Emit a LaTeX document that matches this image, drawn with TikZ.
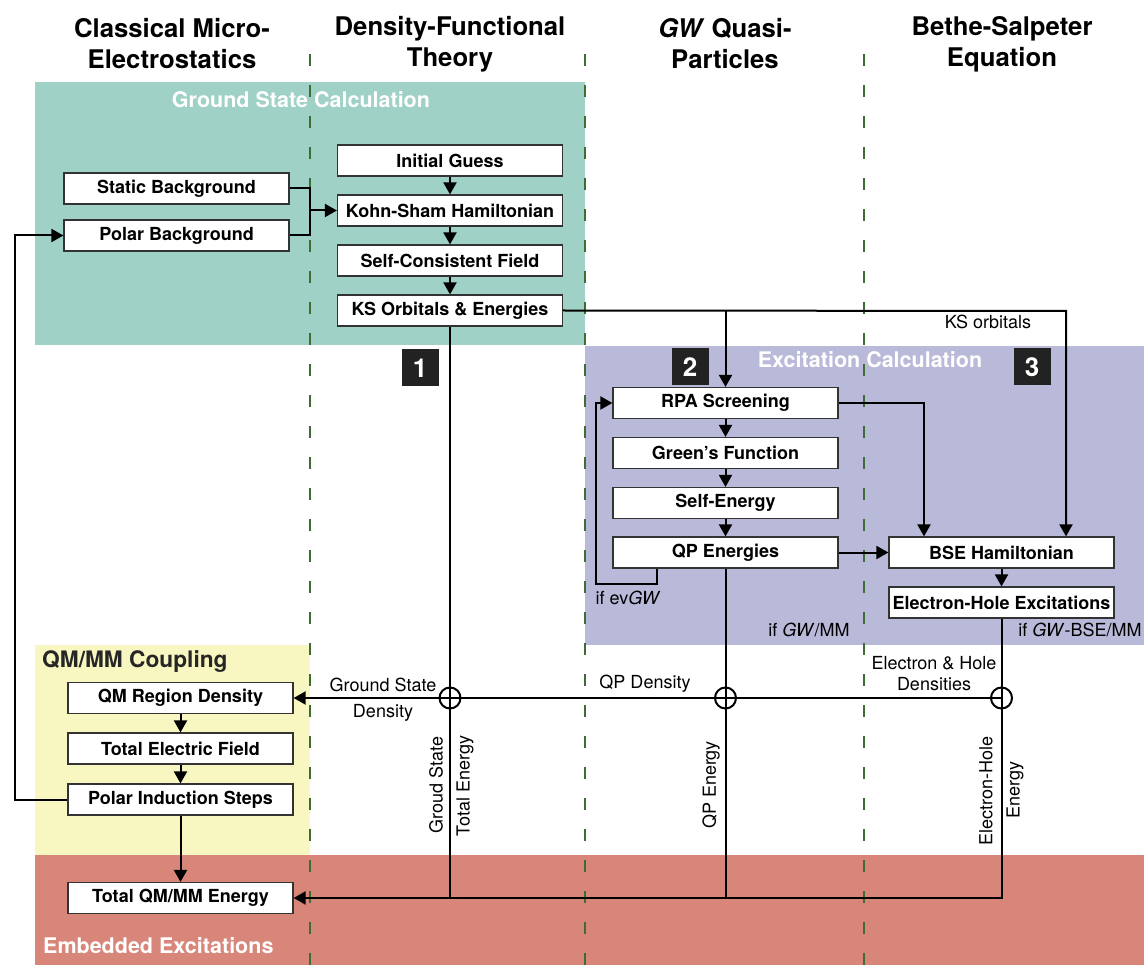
\documentclass[tikz,border=0pt]{standalone}
\usepackage{fontspec}
\setmainfont{TeX Gyre Heros}
\usetikzlibrary{arrows.meta,calc}
\definecolor{tealbg}{HTML}{9FD1C6}
\definecolor{purplebg}{HTML}{B9B9D9}
\definecolor{yellowbg}{HTML}{F8F7C1}
\definecolor{redbg}{HTML}{D9867A}
\definecolor{sepcol}{HTML}{3E6B36}
\definecolor{boxline}{HTML}{333333}
\definecolor{numbg}{HTML}{222222}
\begin{document}
\begin{tikzpicture}[x=1pt,y=-1pt,
  box/.style={draw=boxline, line width=1.2pt, fill=white, minimum width=225pt, minimum height=31pt, inner sep=0pt, font=\fontsize{18}{20}\selectfont\bfseries},
  conn/.style={line width=2pt},
  arr/.style={conn, -{Triangle[length=12pt,width=13pt]}},
  lbl/.style={font=\fontsize{18}{21}\selectfont, inner sep=0pt},
  hdr/.style={font=\fontsize{25.7}{31}\selectfont\bfseries, align=center, inner sep=0pt},
  sec/.style={font=\fontsize{21.5}{24}\selectfont\bfseries, text=white, inner sep=0pt},
  num/.style={fill=numbg, text=white, minimum size=37pt, inner sep=0pt, font=\fontsize{26}{26}\selectfont\bfseries},
  junc/.style={circle, draw, line width=2pt, minimum size=21pt, inner sep=0pt},
  sep/.style={draw=sepcol, line width=1.2pt, dash pattern=on 12pt off 19pt}
]
\useasboundingbox (0,0) rectangle (1144,965);
% background regions
\fill[tealbg] (35,82) rectangle (585,345);
\fill[purplebg] (585,346) rectangle (1144,645);
\fill[yellowbg] (35,645) rectangle (310,855);
\fill[redbg] (35,855) rectangle (1144,965);
% section titles
\node[sec] (tgs) at (301,100) {Ground State Calculation};
\node[sec] (tex) at (870,360) {Excitation Calculation};
\node[sec, text=black!85, font=\fontsize{22.7}{24}\selectfont\bfseries, anchor=west] (tqm) at (42,662) {QM/MM Coupling};
\node[sec, anchor=west] (tem) at (43,946) {Embedded Excitations};
% separators
\draw[sep] (310,54) -- (310,965);
\draw[sep] (585,54) -- (585,965);
\draw[sep] (864,54) -- (864,965);
% headers
\node[hdr] (h1) at (172,44) {Classical Micro-\\Electrostatics};
\node[hdr] (h2) at (450,44) {Density-Functional\\Theory};
\node[hdr] (h3) at (725,44) {\textit{GW} Quasi-\\Particles};
\node[hdr] (h4) at (1002,44) {Bethe-Salpeter\\Equation};
% DFT boxes
\node[box] (ig) at (450,160.5) {Initial Guess};
\node[box] (ksh) at (450,210.5) {Kohn-Sham Hamiltonian};
\node[box] (scf) at (450,260.5) {Self-Consistent Field};
\node[box] (kso) at (450,310.5) {KS Orbitals \& Energies};
% MM boxes
\node[box] (sb) at (176.5,188.5) {Static Background};
\node[box] (pb) at (176.5,235.5) {Polar Background};
% GW boxes
\node[box] (rpa) at (725.5,403) {RPA Screening};
\node[box] (gf) at (725.5,453) {Green’s Function};
\node[box] (se) at (725.5,503) {Self-Energy};
\node[box] (qpe) at (725.5,552.5) {QP Energies};
% BSE boxes
\node[box] (bse) at (1001.5,552.5) {BSE Hamiltonian};
\node[box] (eh) at (1001.5,602.5) {Electron-Hole Excitations};
% QM/MM boxes
\node[box] (qmd) at (180.5,698) {QM Region Density};
\node[box] (tef) at (180.5,748.5) {Total Electric Field};
\node[box] (pis) at (180.5,799.5) {Polar Induction Steps};
\node[box] (tot) at (180.5,898) {Total QM/MM Energy};
% numbers
\node[num] (n1) at (420,368) {1};
\node[num] (n2) at (690,367) {2};
\node[num] (n3) at (1032,367) {3};
% coordinates
\coordinate (jn) at (310,210.5);
\coordinate (ll) at (15,235.5);
\coordinate (ksr) at (1066,311);
\coordinate (rb) at (924,403);
\coordinate (fb) at (596,584);
\coordinate (e1) at (450,898);
\coordinate (e2) at (725.5,898);
\coordinate (e3) at (1001.5,898);
% DFT chain
\draw[arr] (ig) -- (ksh);
\draw[arr] (ksh) -- (scf);
\draw[arr] (scf) -- (kso);
% background to KS Hamiltonian
\draw[conn] (sb.east) -| (jn);
\draw[conn] (pb.east) -| (jn);
\draw[arr] (jn) -- (ksh.west);
% left loop
\draw[arr] (pis.west) -| (ll) -- (pb.west);
% KS orbitals
\draw[arr] (kso.east) -- (ksr) -- (ksr |- bse.north);
\draw[arr] (rpa.north |- ksr) -- (rpa.north);
\node[lbl] (lks) at (988,322) {KS orbitals};
% GW chain
\draw[arr] (rpa) -- (gf);
\draw[arr] (gf) -- (se);
\draw[arr] (se) -- (qpe);
\draw[arr] (rpa.east) -- (rb) -- (rb |- bse.north);
\draw[arr] (qpe.east) -- (bse.west);
\draw[arr] ([xshift=-69pt]qpe.south) -- ([xshift=-69pt]qpe.south |- fb) -- (fb) |- (rpa.west);
\draw[arr] (bse) -- (eh);
\node[lbl] (lev) at (628,598) {if ev\textit{GW}};
\node[lbl] (lgm) at (809,630) {if \textit{GW}/MM};
\node[lbl] (lgb) at (1080,630) {if \textit{GW}-BSE/MM};
% QM/MM chain
\draw[arr] (qmd) -- (tef);
\draw[arr] (tef) -- (pis);
\draw[arr] (pis) -- (tot);
% junctions
\node[junc] (j1) at (450,698) {};
\node[junc] (j2) at (725.5,698) {};
\node[junc] (j3) at (1001.5,698) {};
\draw[arr] (j3.center) -- (qmd.east);
\draw[conn] (kso.south) -- (e1);
\draw[conn] (qpe.south) -- (e2);
\draw[arr] (eh.south) -- (e3) -- (tot.east);
% labels
\node[lbl] (lgs1) at (383,685) {Ground State};
\node[lbl] (lgs2) at (383,713) {Density};
\node[lbl] (lqpd) at (645,684) {QP Density};
\node[lbl, align=center] (lehd) at (934,674) {Electron \& Hole\\Densities};
\node[lbl, rotate=90] (lgse) at (436,785) {Groud State};
\node[lbl, rotate=90] (ltoe) at (465,786) {Total Energy};
\node[lbl, rotate=90] (lqpe) at (711,785) {QP Energy};
\node[lbl, rotate=90] (lehe1) at (986,791) {Electron-Hole};
\node[lbl, rotate=90] (lehe2) at (1015,790) {Energy};
\end{tikzpicture}
\end{document}
